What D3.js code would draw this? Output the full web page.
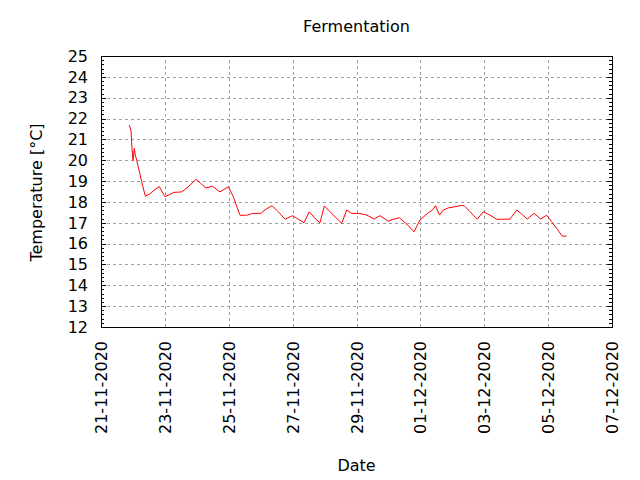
<!DOCTYPE html>
<html>
<head>
<meta charset="utf-8">
<script src="https://cdn.jsdelivr.net/npm/d3@7"></script>
<style>
  body { margin: 0; background: #fff; }
  svg { display: block; font-family: "DejaVu Sans", sans-serif; }
</style>
</head>
<body>
<svg id="chart" width="640" height="480"></svg>
<script>
// Readings (local time) and temperatures, taken from the plot
const times = [
  '2020-11-21 21:16', '2020-11-21 22:32', '2020-11-21 23:18', '2020-11-22 00:03',
  '2020-11-22 01:02', '2020-11-22 01:47', '2020-11-22 02:50', '2020-11-22 06:35',
  '2020-11-22 09:17', '2020-11-22 12:49', '2020-11-22 16:35', '2020-11-22 19:48',
  '2020-11-23 00:05', '2020-11-23 03:50', '2020-11-23 06:52', '2020-11-23 12:39',
  '2020-11-23 17:36', '2020-11-23 23:23', '2020-11-24 02:54', '2020-11-24 06:53',
  '2020-11-24 11:55', '2020-11-24 17:25', '2020-11-24 23:40', '2020-11-25 03:24',
  '2020-11-25 08:27', '2020-11-25 13:29', '2020-11-25 18:00', '2020-11-26 00:00',
  '2020-11-26 03:59', '2020-11-26 08:30', '2020-11-26 13:13', '2020-11-26 18:16',
  '2020-11-27 00:03', '2020-11-27 04:15', '2020-11-27 08:32', '2020-11-27 12:31',
  '2020-11-27 16:48', '2020-11-27 20:34', '2020-11-27 23:47', '2020-11-28 04:04',
  '2020-11-28 12:52', '2020-11-28 16:38', '2020-11-28 20:23', '2020-11-29 02:05',
  '2020-11-29 07:39', '2020-11-29 13:22', '2020-11-29 17:38', '2020-11-29 23:53',
  '2020-11-30 03:39', '2020-11-30 08:08', '2020-11-30 13:42', '2020-11-30 19:12',
  '2020-11-30 23:42', '2020-12-01 05:57', '2020-12-01 09:14', '2020-12-01 11:21',
  '2020-12-01 14:21', '2020-12-01 17:12', '2020-12-01 20:58', '2020-12-02 02:00',
  '2020-12-02 07:02', '2020-12-02 09:00', '2020-12-02 13:16', '2020-12-02 18:46',
  '2020-12-02 23:15', '2020-12-03 04:18', '2020-12-03 09:20', '2020-12-03 19:20',
  '2020-12-04 00:22', '2020-12-04 04:08', '2020-12-04 08:20', '2020-12-04 13:22',
  '2020-12-04 18:24', '2020-12-04 22:55', '2020-12-05 02:40', '2020-12-05 06:26',
  '2020-12-05 10:38', '2020-12-05 13:55'
];
const temps = [
  21.69, 21.45, 20.57, 19.98, 20.57, 20.25, 20.0, 18.97,
  18.28, 18.38, 18.6, 18.73, 18.25, 18.36, 18.46, 18.48,
  18.73, 19.08, 18.89, 18.67, 18.75, 18.48, 18.73, 18.25,
  17.36, 17.36, 17.45, 17.45, 17.65, 17.82, 17.53, 17.17,
  17.34, 17.17, 17.0, 17.53, 17.21, 17.0, 17.8, 17.53,
  16.97, 17.61, 17.45, 17.45, 17.37, 17.18, 17.34, 17.08,
  17.17, 17.24, 16.94, 16.57, 17.13, 17.48, 17.61, 17.82,
  17.37, 17.61, 17.71, 17.77, 17.83, 17.82, 17.53, 17.17,
  17.53, 17.37, 17.17, 17.17, 17.61, 17.42, 17.17, 17.45,
  17.18, 17.36, 17.05, 16.73, 16.36, 16.36
];
const xDomain = ['2020-11-21', '2020-12-07'];
const yDomain = [12, 25];
const title = 'Fermentation';
const xLabel = 'Date';
const yLabel = 'Temperature [°C]';

const parseTime = d3.timeParse('%Y-%m-%d %H:%M');
const parseDay = d3.timeParse('%Y-%m-%d');
const fmtDay = d3.timeFormat('%d-%m-%Y');

const data = times.map((t, i) => ({ date: parseTime(t), value: temps[i] }));

const margin = { left: 101, right: 28, top: 56, bottom: 153 };
const W = 640, H = 480;
const x0 = margin.left, x1 = W - margin.right;
const y0 = H - margin.bottom, y1 = margin.top;

const x = d3.scaleTime().domain(xDomain.map(parseDay)).range([x0, x1]);
const y = d3.scaleLinear().domain(yDomain).range([y0, y1]);

const svg = d3.select('#chart');

const xTicks = d3.timeDay.every(2).range(x.domain()[0], d3.timeDay.offset(x.domain()[1], 1));
const yTicks = d3.range(yDomain[0], yDomain[1] + 1);
const yMinor = d3.range(yDomain[0] * 5, yDomain[1] * 5 + 1).map(v => v / 5)
  .filter(v => Math.abs(v - Math.round(v)) > 1e-6);

// grid
const grid = svg.append('g')
  .attr('stroke', '#a0a0a0')
  .attr('stroke-width', 1)
  .attr('stroke-dasharray', '3,3')
  .attr('shape-rendering', 'crispEdges');

grid.selectAll('line.gy')
  .data(yTicks.filter(v => v > yDomain[0] && v < yDomain[1]))
  .enter().append('line')
  .attr('x1', x0).attr('x2', x1)
  .attr('y1', d => Math.round(y(d)) + 0.5)
  .attr('y2', d => Math.round(y(d)) + 0.5);

grid.selectAll('line.gx')
  .data(xTicks.filter(d => x(d) > x0 + 1 && x(d) < x1 - 1))
  .enter().append('line')
  .attr('y1', y0).attr('y2', y1)
  .attr('x1', d => Math.round(x(d)) + 0.5)
  .attr('x2', d => Math.round(x(d)) + 0.5);

// ticks on left and right, pointing inward
const ticks = svg.append('g')
  .attr('stroke', '#000')
  .attr('stroke-width', 1)
  .attr('shape-rendering', 'crispEdges');

[[x0, 1], [x1, -1]].forEach(([xp, dir]) => {
  ticks.selectAll(null).data(yTicks).enter().append('line')
    .attr('x1', xp).attr('x2', xp + dir * 5)
    .attr('y1', d => Math.round(y(d)) + 0.5)
    .attr('y2', d => Math.round(y(d)) + 0.5);
  ticks.selectAll(null).data(yMinor).enter().append('line')
    .attr('x1', xp).attr('x2', xp + dir * 3)
    .attr('y1', d => Math.round(y(d)) + 0.5)
    .attr('y2', d => Math.round(y(d)) + 0.5);
});

// data line
const line = d3.line()
  .x(d => x(d.date))
  .y(d => y(d.value));

svg.append('path')
  .datum(data)
  .attr('d', line)
  .attr('fill', 'none')
  .attr('stroke', '#ff0000')
  .attr('stroke-width', 1);

// frame
svg.append('rect')
  .attr('x', x0 + 0.5).attr('y', y1 + 0.5)
  .attr('width', x1 - x0).attr('height', y0 - y1)
  .attr('fill', 'none')
  .attr('stroke', '#000')
  .attr('stroke-width', 1)
  .attr('shape-rendering', 'crispEdges');

// y tick labels
svg.append('g').selectAll('text')
  .data(yTicks)
  .enter().append('text')
  .attr('x', x0 - 13)
  .attr('y', d => y(d))
  .attr('dy', '0.36em')
  .attr('text-anchor', 'end')
  .attr('font-size', 16)
  .text(d => d);

// x tick labels, rotated
svg.append('g').selectAll('text')
  .data(xTicks)
  .enter().append('text')
  .attr('transform', d => `translate(${x(d) + 6},${y0 + 14}) rotate(-90)`)
  .attr('text-anchor', 'end')
  .attr('font-size', 16)
  .text(d => fmtDay(d));

// titles
svg.append('text')
  .attr('x', (x0 + x1) / 2).attr('y', 32)
  .attr('text-anchor', 'middle')
  .attr('font-size', 16)
  .text(title);

svg.append('text')
  .attr('x', (x0 + x1) / 2).attr('y', 471)
  .attr('text-anchor', 'middle')
  .attr('font-size', 16)
  .text(xLabel);

svg.append('text')
  .attr('transform', `translate(42,${(y0 + y1) / 2 + 1}) rotate(-90)`)
  .attr('text-anchor', 'middle')
  .attr('font-size', 16)
  .text(yLabel);
</script>
</body>
</html>
